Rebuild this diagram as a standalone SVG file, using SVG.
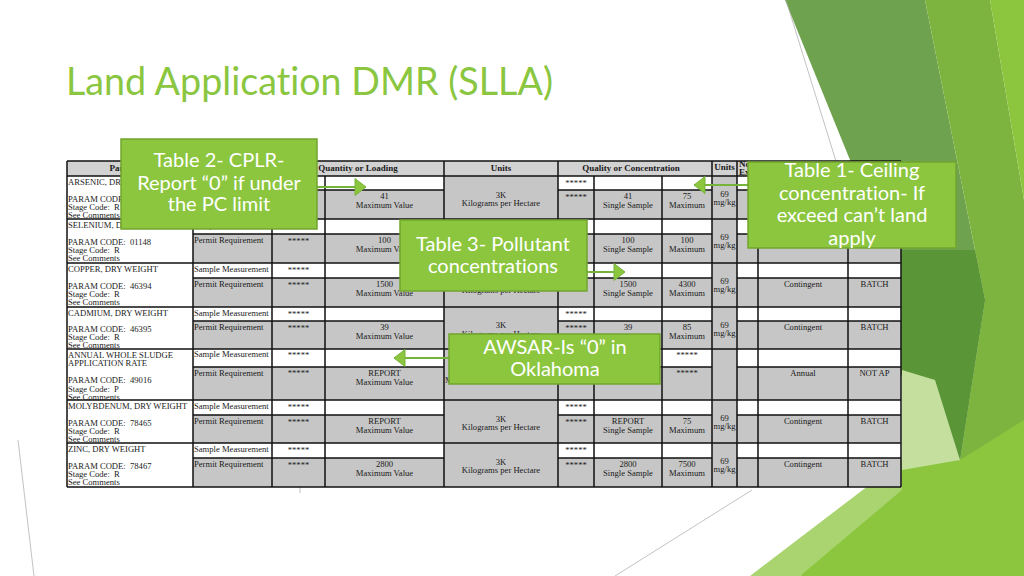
<svg xmlns="http://www.w3.org/2000/svg" width="1024" height="576" viewBox="0 0 1024 576">
<defs>
<style>
.t{font-family:"Liberation Serif","Times New Roman",serif;font-size:8.6px;fill:#1a1a1a;white-space:pre}
.c{text-anchor:middle}
.h{font-weight:bold;font-size:9px}
.grid{stroke:#111;stroke-width:1.5;fill:none}
.g{fill:#c6c6c6}
.w{fill:#ffffff}
.co rect{fill:#8cc63f;stroke:#72a52f;stroke-width:1.5}
.co text{font-family:Lato,"Open Sans",sans-serif;font-size:20px;fill:#ffffff;text-anchor:middle;font-variant-ligatures:none}
.arr{stroke:#76b33a;stroke-width:2;fill:none;marker-end:url(#ah)}
.thin{stroke:#a8a8a8;stroke-width:0.7;fill:none}
.title{font-family:Lato,"Open Sans",sans-serif;font-size:39px;fill:#8ac640;font-variant-ligatures:none}
</style>
<marker id="ah" markerUnits="userSpaceOnUse" markerWidth="13" markerHeight="20" viewBox="0 0 13 20" refX="12" refY="10" orient="auto">
<path d="M1,1.5 L12,10 L1,18.5 Z" fill="#8cc63f" stroke="#76b33a" stroke-width="1"/>
</marker>
</defs>
<rect width="1024" height="576" fill="#ffffff"/>
<g id="background">
<polygon fill="#6fa24f" points="785,0 925,0 985,300 960,460 905,390 850,160"/>
<polygon fill="#7db43f" points="925,0 990,0 1024,200 1024,576 960,460 985,300"/>
<polygon fill="#8cc63f" points="990,0 1024,0 1024,200"/>
<polygon fill="#5a9537" points="902,250 975,250 985,300 960,460 902,380"/>
<polygon fill="#c4df9e" points="902,370 935,380 960,460 902,480"/>
<polygon fill="#8cc63f" points="800,576 902,470 960,460 1024,420 1024,576"/>
<polygon fill="#a9d46f" points="750,576 902,460 902,490 800,576"/>
<line class="thin" x1="786" y1="0" x2="848" y2="200"/>
<line class="thin" x1="752" y1="490" x2="615" y2="576"/>
<line class="thin" x1="18" y1="440" x2="34" y2="576"/>
<line class="thin" x1="300" y1="487" x2="300" y2="493"/>
</g>
<text class="title" x="66" y="95" textLength="487" lengthAdjust="spacingAndGlyphs">Land Application DMR (SLLA)</text>
<g id="table">
<rect x="67" y="161" width="834" height="15" fill="#d2d2d2"/>
<rect class="w" x="67" y="176" width="834" height="311"/>
<rect class="g" x="193" y="190" width="708" height="29"/>
<rect class="g" x="193" y="234" width="708" height="29"/>
<rect class="g" x="193" y="278" width="708" height="29"/>
<rect class="g" x="193" y="321" width="708" height="28"/>
<rect class="g" x="193" y="367" width="708" height="33"/>
<rect class="g" x="193" y="415" width="708" height="28"/>
<rect class="g" x="193" y="458" width="708" height="29"/>
<rect class="g" x="444" y="176" width="114" height="311"/>
<rect class="g" x="712" y="176" width="25" height="311"/>
<path class="grid" d="M67,161H901M67,176H901M67,219H901M67,263H901M67,307H901M67,349H901M67,400H901M67,443H901M67,487H901
M193,190H444M558,190H712M737,190H901
M193,234H444M558,234H712M737,234H901
M193,278H444M558,278H712M737,278H901
M193,321H444M558,321H712M737,321H901
M193,367H444M558,367H712M737,367H901
M193,415H444M558,415H712M737,415H901
M193,458H444M558,458H712M737,458H901
M67,161V487M193,161V487M272,161V487M325,176V487M444,161V487M558,161V487M594,176V487M662,176V487M712,161V487M737,161V487M758,161V487M848,161V487M901,161V487"/>
<text class="t h c" x="130" y="171">Parameter</text>
<text class="t h c" x="358" y="171">Quantity or Loading</text>
<text class="t h c" x="501" y="171">Units</text>
<text class="t h c" x="631" y="171">Quality or Concentration</text>
<text class="t h c" x="724.5" y="170">Units</text>
<text class="t h" x="739" y="167" font-size="7">No.</text>
<text class="t h" x="739" y="175" font-size="7">Ex</text>
<!-- Arsenic -->
<text class="t" x="68" y="185">ARSENIC, DRY WEIGHT</text>
<text class="t" x="68" y="201.5">PARAM CODE:</text>
<text class="t" x="68" y="209.5">Stage Code:  R</text>
<text class="t" x="68" y="217.5">See Comments</text>
<text class="t c" x="384.5" y="199">41</text><text class="t c" x="384.5" y="207.5">Maximum Value</text>
<text class="t c" x="501" y="197.5">3K</text><text class="t c" x="501" y="205.5">Kilograms per Hectare</text>
<text class="t c" x="576" y="186">*****</text><text class="t c" x="576" y="199.5">*****</text>
<text class="t c" x="628" y="199">41</text><text class="t c" x="628" y="207.5">Single Sample</text>
<text class="t c" x="687" y="199">75</text><text class="t c" x="687" y="207.5">Maximum</text>
<text class="t c" x="724.5" y="197">69</text><text class="t c" x="724.5" y="205">mg/kg</text>
<!-- Selenium -->
<text class="t" x="68" y="228">SELENIUM, DRY WEIGHT</text>
<text class="t" x="68" y="244.5">PARAM CODE:  01148</text>
<text class="t" x="68" y="252.5">Stage Code:  R</text>
<text class="t" x="68" y="260.5">See Comments</text>
<text class="t" x="194" y="228">Sample Measurement</text>
<text class="t" x="194" y="242.5">Permit Requirement</text>
<text class="t c" x="298.5" y="229">*****</text><text class="t c" x="298.5" y="243.5">*****</text>
<text class="t c" x="384.5" y="243">100</text><text class="t c" x="384.5" y="251.5">Maximum Value</text>
<text class="t c" x="628" y="243">100</text><text class="t c" x="628" y="251.5">Single Sample</text>
<text class="t c" x="687" y="243">100</text><text class="t c" x="687" y="251.5">Maximum</text>
<text class="t c" x="724.5" y="240">69</text><text class="t c" x="724.5" y="248">mg/kg</text>
<!-- Copper -->
<text class="t" x="68" y="272">COPPER, DRY WEIGHT</text>
<text class="t" x="68" y="288.5">PARAM CODE:  46394</text>
<text class="t" x="68" y="296.5">Stage Code:  R</text>
<text class="t" x="68" y="304.5">See Comments</text>
<text class="t" x="194" y="272">Sample Measurement</text>
<text class="t" x="194" y="286.5">Permit Requirement</text>
<text class="t c" x="298.5" y="273">*****</text><text class="t c" x="298.5" y="287.5">*****</text>
<text class="t c" x="384.5" y="287">1500</text><text class="t c" x="384.5" y="295.5">Maximum Value</text>
<text class="t c" x="501" y="292.5">Kilograms per Hectare</text>
<text class="t c" x="628" y="287">1500</text><text class="t c" x="628" y="295.5">Single Sample</text>
<text class="t c" x="687" y="287">4300</text><text class="t c" x="687" y="295.5">Maximum</text>
<text class="t c" x="724.5" y="284">69</text><text class="t c" x="724.5" y="292">mg/kg</text>
<text class="t c" x="803" y="287">Contingent</text><text class="t c" x="874.5" y="287">BATCH</text>
<!-- Cadmium -->
<text class="t" x="68" y="316">CADMIUM, DRY WEIGHT</text>
<text class="t" x="68" y="332">PARAM CODE:  46395</text>
<text class="t" x="68" y="340">Stage Code:  R</text>
<text class="t" x="68" y="348">See Comments</text>
<text class="t" x="194" y="316">Sample Measurement</text>
<text class="t" x="194" y="329.5">Permit Requirement</text>
<text class="t c" x="298.5" y="317">*****</text><text class="t c" x="298.5" y="330.5">*****</text>
<text class="t c" x="384.5" y="330">39</text><text class="t c" x="384.5" y="338.5">Maximum Value</text>
<text class="t c" x="501" y="328">3K</text><text class="t c" x="501" y="337">Kilograms per Hectare</text>
<text class="t c" x="576" y="317">*****</text><text class="t c" x="576" y="330.5">*****</text>
<text class="t c" x="628" y="330">39</text>
<text class="t c" x="687" y="330">85</text><text class="t c" x="687" y="338.5">Maximum</text>
<text class="t c" x="724.5" y="328">69</text><text class="t c" x="724.5" y="336">mg/kg</text>
<text class="t c" x="803" y="330">Contingent</text><text class="t c" x="874.5" y="330">BATCH</text>
<!-- Annual whole sludge -->
<text class="t" x="68" y="358">ANNUAL WHOLE SLUDGE</text>
<text class="t" x="68" y="366">APPLICATION RATE</text>
<text class="t" x="68" y="383">PARAM CODE:  49016</text>
<text class="t" x="68" y="391.5">Stage Code:  P</text>
<text class="t" x="68" y="399.5">See Comments</text>
<text class="t" x="194" y="357">Sample Measurement</text>
<text class="t" x="194" y="375.5">Permit Requirement</text>
<text class="t c" x="298.5" y="358">*****</text><text class="t c" x="298.5" y="376">*****</text>
<text class="t c" x="384.5" y="376">REPORT</text><text class="t c" x="384.5" y="384.5">Maximum Value</text>
<text class="t" x="445" y="383">M</text>
<text class="t c" x="687" y="358">*****</text><text class="t c" x="687" y="376">*****</text>
<text class="t c" x="803" y="376">Annual</text><text class="t c" x="874.5" y="376">NOT AP</text>
<!-- Molybdenum -->
<text class="t" x="68" y="409">MOLYBDENUM, DRY WEIGHT</text>
<text class="t" x="68" y="425.5">PARAM CODE:  78465</text>
<text class="t" x="68" y="433.5">Stage Code:  R</text>
<text class="t" x="68" y="441.5">See Comments</text>
<text class="t" x="194" y="409">Sample Measurement</text>
<text class="t" x="194" y="423.5">Permit Requirement</text>
<text class="t c" x="298.5" y="410">*****</text><text class="t c" x="298.5" y="424.5">*****</text>
<text class="t c" x="384.5" y="424">REPORT</text><text class="t c" x="384.5" y="432.5">Maximum Value</text>
<text class="t c" x="501" y="421.5">3K</text><text class="t c" x="501" y="429.5">Kilograms per Hectare</text>
<text class="t c" x="576" y="410">*****</text><text class="t c" x="576" y="424.5">*****</text>
<text class="t c" x="628" y="424">REPORT</text><text class="t c" x="628" y="432.5">Single Sample</text>
<text class="t c" x="687" y="424">75</text><text class="t c" x="687" y="432.5">Maximum</text>
<text class="t c" x="724.5" y="421">69</text><text class="t c" x="724.5" y="429">mg/kg</text>
<text class="t c" x="803" y="424">Contingent</text><text class="t c" x="874.5" y="424">BATCH</text>
<!-- Zinc -->
<text class="t" x="68" y="452">ZINC, DRY WEIGHT</text>
<text class="t" x="68" y="468.5">PARAM CODE:  78467</text>
<text class="t" x="68" y="476.5">Stage Code:  R</text>
<text class="t" x="68" y="484.5">See Comments</text>
<text class="t" x="194" y="452">Sample Measurement</text>
<text class="t" x="194" y="466.5">Permit Requirement</text>
<text class="t c" x="298.5" y="453">*****</text><text class="t c" x="298.5" y="467.5">*****</text>
<text class="t c" x="384.5" y="467">2800</text><text class="t c" x="384.5" y="475.5">Maximum Value</text>
<text class="t c" x="501" y="464.5">3K</text><text class="t c" x="501" y="472.5">Kilograms per Hectare</text>
<text class="t c" x="576" y="453">*****</text><text class="t c" x="576" y="467.5">*****</text>
<text class="t c" x="628" y="467">2800</text><text class="t c" x="628" y="475.5">Single Sample</text>
<text class="t c" x="687" y="467">7500</text><text class="t c" x="687" y="475.5">Maximum</text>
<text class="t c" x="724.5" y="464">69</text><text class="t c" x="724.5" y="472">mg/kg</text>
<text class="t c" x="803" y="467">Contingent</text><text class="t c" x="874.5" y="467">BATCH</text>
</g>
<g id="connectors">
<line class="arr" x1="317" y1="187" x2="366" y2="187"/>
<line class="arr" x1="748" y1="185" x2="694" y2="185"/>
<line class="arr" x1="587" y1="272" x2="625" y2="272"/>
<line class="arr" x1="449" y1="358" x2="394" y2="358"/>
</g>
<g id="callout-table2" class="co">
<rect x="121" y="139" width="196" height="90"/>
<text x="219" y="167">Table 2- CPLR-</text>
<text x="219" y="189.5">Report “0” if under</text>
<text x="219" y="211">the PC limit</text>
</g>
<g id="callout-table1" class="co">
<rect x="748" y="162" width="208" height="86"/>
<text x="852" y="177">Table 1- Ceiling</text>
<text x="852" y="199.5">concentration- If</text>
<text x="852" y="222">exceed can’t land</text>
<text x="852" y="244.5">apply</text>
</g>
<g id="callout-table3" class="co">
<rect x="400" y="220" width="187" height="71"/>
<text x="493" y="251">Table 3- Pollutant</text>
<text x="493" y="273">concentrations</text>
</g>
<g id="callout-awsar" class="co">
<rect x="449" y="334" width="211" height="50"/>
<text x="555" y="354">AWSAR-Is “0” in</text>
<text x="555" y="376">Oklahoma</text>
</g>
</svg>
